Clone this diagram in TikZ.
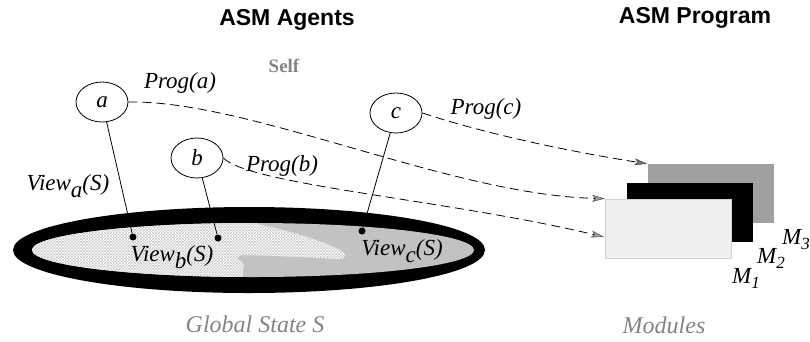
\documentclass[tikz,border=0pt]{standalone}
\usepackage{fontspec}
\setmainfont{Liberation Serif}
\newfontfamily\headfont{Liberation Sans}
\usetikzlibrary{arrows.meta,patterns,shapes.geometric}

\definecolor{regiongray}{HTML}{C2C2C2}
\definecolor{backgray}{HTML}{A0A0A0}
\definecolor{frontgray}{HTML}{EFEFEF}
\definecolor{frontedge}{HTML}{D2D2D2}
\definecolor{captiongray}{HTML}{848484}

\tikzset{
  agent/.style={draw, ellipse, line width=0.8pt, minimum width=52pt, minimum height=40pt,
    inner sep=0pt, font=\fontsize{23}{26}\selectfont\itshape},
  lbl/.style={inner sep=0pt, font=\fontsize{23}{26}\selectfont\itshape},
  heading/.style={inner sep=0pt, font=\fontsize{23}{26}\selectfont\headfont\bfseries},
  caption/.style={inner sep=0pt, text=captiongray, font=\fontsize{24}{27}\selectfont\itshape},
  viewdot/.style={circle, fill=black, inner sep=0pt, minimum size=7pt},
  viewline/.style={line width=0.8pt},
  progline/.style={line width=0.8pt, dash pattern=on 9pt off 5pt,
    -{Stealth[length=13pt, width=7pt, inset=3pt, fill=#1, color=black!65, line width=0.6pt]}},
  module/.style={inner sep=0pt, minimum width=126pt, minimum height=59pt}
}

\begin{document}
\begin{tikzpicture}[x=1pt, y=-1pt]
\useasboundingbox (0,0) rectangle (810,341);

% headings
\node[heading] (hagents) at (287,20) {ASM Agents};
\node[heading] (hprog) at (695,18) {ASM Program};
\node[inner sep=0pt, text=captiongray, font=\fontsize{19}{22}\selectfont\bfseries] (self) at (284,66) {Self};

% global state: black rim, grey view of c, textured view of b
\fill[black] (249,250) ellipse [x radius=236pt, y radius=43pt];
\fill[regiongray] (253,250) ellipse [x radius=221pt, y radius=27pt];
\begin{scope}
  \clip (253,250) ellipse [x radius=221pt, y radius=27pt];
  \path[fill=white, postaction={pattern=crosshatch, pattern color=gray!40}]
    (0,300) -- (241,300) -- (243,270)
    .. controls (244,266) and (244,263) .. (242,262)
    .. controls (236,260) and (236,255) .. (244,255)
    .. controls (290,256) and (320,258) .. (338,259)
    .. controls (347,259) and (347,254) .. (340,250)
    .. controls (320,240) and (290,231) .. (257,224)
    -- (255,200) -- (0,200) -- cycle;
\end{scope}

% agents
\node[agent] (a) at (102,102) {a};
\node[agent] (b) at (197,158) {b};
\node[agent] (c) at (396,113) {c};

% points of view in the state
\node[viewdot] (da) at (133,237) {};
\node[viewdot] (db) at (218,238) {};
\node[viewdot] (dc) at (362,231) {};
\draw[viewline] (a) -- (da);
\draw[viewline] (b) -- (db);
\draw[viewline] (c) -- (dc);

\node[lbl] (va) at (68,186) {View\raisebox{-7pt}{a}(S)};
\node[lbl] (vb) at (172,257) {View\raisebox{-7pt}{b}(S)};
\node[lbl] (vc) at (402,251) {View\raisebox{-7pt}{c}(S)};

% modules
\node[module, fill=backgray] (m3) at (710.5,193.5) {};
\node[module, fill=black] (m2) at (690,212) {};
\node[module, fill=frontgray, draw=frontedge, line width=0.8pt] (m1) at (668.5,228.5) {};
\coordinate (m1in) at (604,237);

\node[lbl] (l3) at (796,240) {M\raisebox{-5pt}{\fontsize{17}{20}\selectfont 3}};
\node[lbl] (l2) at (771,258) {M\raisebox{-5pt}{\fontsize{17}{20}\selectfont 2}};
\node[lbl] (l1) at (746,278) {M\raisebox{-5pt}{\fontsize{17}{20}\selectfont 1}};

% programs
\draw[progline=gray!75] (a.east) .. controls (250,100) and (450,195) .. (m1.north west);
\draw[progline=gray!75] (b.east) .. controls (250,185) and (450,200) .. (m1in);
\draw[progline=black!55] (c.east) .. controls (480,132) and (560,150) .. (m3.north west);

\node[lbl] (pa) at (180,83) {Prog(a)};
\node[lbl] (pb) at (282,166) {Prog(b)};
\node[lbl] (pc) at (486,109) {Prog(c)};

% captions
\node[caption] (gs) at (255,324) {Global State S};
\node[caption] (mods) at (664,325) {Modules};
\end{tikzpicture}
\end{document}
